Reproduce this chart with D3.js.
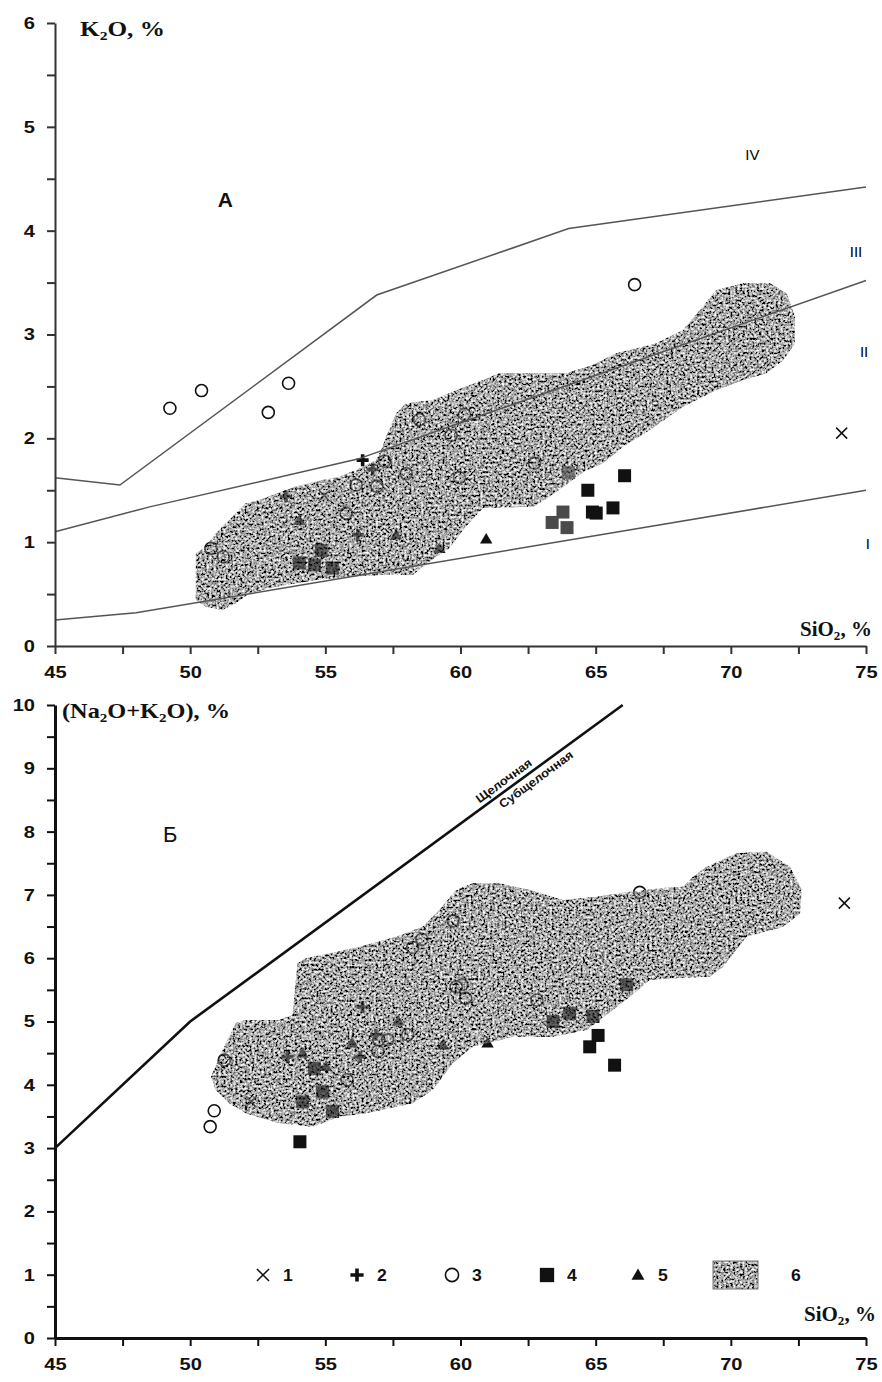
<!DOCTYPE html>
<html>
<head>
<meta charset="utf-8">
<script src="https://cdn.jsdelivr.net/npm/d3@7"></script>
<style>
  html, body { margin: 0; padding: 0; background: #fff; }
  svg { display: block; }
</style>
</head>
<body>
<svg id="chart" width="882" height="1382"></svg>
<script>
// ---------- Diagram A: K2O vs SiO2 ----------
const k2oTicksX = [45, 50, 55, 60, 65, 70, 75];
const k2oTicksY = [0, 1, 2, 3, 4, 5, 6];

// boundary lines between series I–IV (SiO2, K2O)
const k2oLineI  = [[45, 0.25], [48, 0.32], [75, 1.5]];
const k2oLineII = [[45, 1.1], [48.5, 1.34], [56.2, 1.8], [60, 2.15], [75, 3.52]];
const k2oLineIV = [[45, 1.62], [47.4, 1.55], [56.9, 3.38], [64, 4.02], [75, 4.42]];

// field 6 outline
const k2oField = [
  [50.21,0.893],[50.58,0.957],[50.95,1.086],[51.57,1.246],[52.06,1.375],[52.56,1.407],
  [53.91,1.535],[54.90,1.599],[55.52,1.631],[56.14,1.696],[56.88,1.792],[57.12,1.920],
  [57.25,2.016],[57.62,2.242],[57.99,2.338],[58.97,2.370],[60.09,2.486],[60.83,2.563],
  [61.44,2.627],[63.91,2.627],[64.90,2.707],[65.77,2.820],[67.25,2.916],[68.23,3.044],
  [68.97,3.269],[69.47,3.430],[70.46,3.494],[71.44,3.494],[72.06,3.398],[72.37,3.172],
  [72.37,2.916],[71.94,2.755],[71.32,2.627],[70.46,2.563],[69.47,2.466],[68.23,2.305],
  [67.00,2.081],[66.01,1.920],[65.27,1.760],[64.53,1.676],[63.30,1.438],[62.68,1.342],
  [60.83,1.329],[60.15,1.137],[59.59,0.944],[59.10,0.860],[58.60,0.764],[58.23,0.684],
  [57.12,0.684],[55.89,0.668],[54.66,0.636],[53.17,0.571],[52.19,0.508],[51.69,0.411],
  [51.20,0.347],[50.58,0.379],[50.21,0.443]
];

// samples by group (SiO2, K2O)
const k2oCross = [[54.96, 1.45], [74.1, 2.05]];
const k2oPlus = [[56.38, 1.79], [56.75, 1.70], [53.54, 1.44], [56.2, 1.07]];
const k2oCircle = [
  [49.25, 2.29], [50.42, 2.46], [52.89, 2.25], [53.64, 2.53], [58.48, 2.18], [57.19, 1.78],
  [57.99, 1.66], [56.14, 1.55], [56.91, 1.54], [55.77, 1.28], [50.77, 0.94], [51.22, 0.86],
  [60.15, 2.23], [59.65, 2.03], [59.96, 1.62], [62.74, 1.76], [66.44, 3.48]
];
const k2oSquare = [
  [54.04, 0.80], [54.85, 0.92], [55.26, 0.75], [54.6, 0.78],
  [66.07, 1.64], [64.71, 1.50], [64.88, 1.29], [65.02, 1.28], [65.64, 1.33]
];
const k2oSquareGrey = [[64.0, 1.67], [63.79, 1.29], [63.39, 1.19], [63.94, 1.14]];
const k2oTriangle = [[54.04, 1.21], [57.62, 1.07], [59.22, 0.94], [60.95, 1.03]];

// ---------- Diagram Б: Na2O+K2O vs SiO2 ----------
const alkTicksX = [45, 50, 55, 60, 65, 70, 75];
const alkTicksY = [0, 1, 2, 3, 4, 5, 6, 7, 8, 9, 10];
const alkDivide = [[45, 3], [50, 5], [66, 10]];

const alkField = [
  [50.77,4.128],[51.20,4.550],[51.69,4.972],[52.06,5.024],[53.30,5.024],[53.79,5.103],
  [53.97,5.919],[54.29,5.998],[55.15,6.077],[56.26,6.182],[57.62,6.340],[58.60,6.498],
  [59.22,6.761],[59.84,7.077],[60.46,7.183],[61.44,7.183],[62.56,7.077],[63.79,6.919],
  [65.03,6.972],[66.26,7.051],[67.49,7.109],[68.23,7.130],[68.60,7.288],[69.10,7.446],
  [70.21,7.657],[71.32,7.683],[72.19,7.446],[72.62,7.077],[72.56,6.709],[71.94,6.498],
  [70.58,6.340],[69.71,5.866],[69.22,5.708],[68.11,5.687],[67.00,5.656],[66.26,5.392],
  [65.64,5.182],[64.66,4.866],[63.42,4.760],[61.94,4.760],[60.46,4.602],[59.71,4.340],
  [58.97,3.918],[58.23,3.708],[56.51,3.550],[55.52,3.496],[54.53,3.338],[53.30,3.392],
  [52.06,3.550],[51.44,3.708],[50.95,3.918]
];

const alkCross = [[52.25, 3.73], [74.2, 6.87]];
const alkPlus = [[56.38, 5.23], [56.87, 4.79], [53.6, 4.44], [56.29, 4.44]];
const alkCircle = [
  [50.89, 3.59], [50.74, 3.34], [51.26, 4.39], [55.8, 4.08], [59.72, 6.59], [58.23, 6.17],
  [58.57, 6.30], [59.84, 5.55], [60.06, 5.58], [60.19, 5.37], [62.83, 5.34], [58.05, 4.79],
  [56.98, 4.71], [57.31, 4.71], [56.94, 4.53], [66.63, 7.04]
];
const alkSquare = [
  [54.59, 4.26], [54.9, 3.89], [54.16, 3.73], [55.27, 3.58], [54.06, 3.10], [63.42, 5.0],
  [64.04, 5.13], [64.9, 5.08], [66.14, 5.58], [65.09, 4.78], [64.78, 4.60], [65.7, 4.31]
];
const alkTriangle = [[57.7, 5.01], [55.99, 4.66], [54.16, 4.50], [59.35, 4.63], [61.0, 4.66], [55.02, 4.29]];

const legendItems = [
  { key: "cross", label: "1" }, { key: "plus", label: "2" }, { key: "circle", label: "3" },
  { key: "square", label: "4" }, { key: "triangle", label: "5" }, { key: "field", label: "6" }
];

// ---------- drawing ----------
const SANS = "'Liberation Sans', Arial, sans-serif";
const svg = d3.select("#chart");
svg.append("rect").attr("width", 882).attr("height", 1382).attr("fill", "#fff");

// widen a text element horizontally by factor k (or to a fixed width)
function widen(sel, k, fixed) {
  sel.each(function () {
    const w = this.getComputedTextLength();
    if (w > 0) {
      d3.select(this).attr("textLength", fixed || w * k).attr("lengthAdjust", "spacingAndGlyphs");
    }
  });
  return sel;
}

const defs = svg.append("defs");
const grain = defs.append("filter").attr("id", "grain")
  .attr("x", "-2%").attr("y", "-2%").attr("width", "104%").attr("height", "104%");
grain.append("feTurbulence").attr("type", "fractalNoise").attr("baseFrequency", 0.42)
  .attr("numOctaves", 2).attr("seed", 11).attr("result", "n");
grain.append("feColorMatrix").attr("in", "n").attr("type", "matrix")
  .attr("values", "2.1 0 0 0 -0.66  2.1 0 0 0 -0.66  2.1 0 0 0 -0.66  0 0 0 0 1")
  .attr("result", "g");
grain.append("feComposite").attr("in", "g").attr("in2", "SourceAlpha").attr("operator", "in");

function marker(g, type, cx, cy, fill, big) {
  const col = fill || "#111";
  const k = big ? 1.1 : 1;
  if (type === "cross") {
    const s = 5.5 * k;
    g.append("path").attr("d", `M${cx - s},${cy - s}L${cx + s},${cy + s}M${cx - s},${cy + s}L${cx + s},${cy - s}`)
      .attr("stroke", col).attr("stroke-width", 1.5).attr("fill", "none");
  } else if (type === "plus") {
    const s = 6 * k;
    g.append("path").attr("d", `M${cx - s},${cy}L${cx + s},${cy}M${cx},${cy - s}L${cx},${cy + s}`)
      .attr("stroke", col).attr("stroke-width", 3.6).attr("fill", "none");
  } else if (type === "circle") {
    g.append("circle").attr("cx", cx).attr("cy", cy).attr("r", 6 * k)
      .attr("stroke", col).attr("stroke-width", 1.6).attr("fill", "none");
  } else if (type === "square") {
    const s = 6.5 * k;
    g.append("rect").attr("x", cx - s).attr("y", cy - s).attr("width", 2 * s).attr("height", 2 * s)
      .attr("fill", col);
  } else if (type === "triangle") {
    g.append("path").attr("transform", `translate(${cx},${cy + 1})`)
      .attr("d", d3.symbol(d3.symbolTriangle, 66 * k)()).attr("fill", col);
  }
}

function plotPoints(g, x, y, sets) {
  sets.forEach(([data, type, fill]) => {
    data.forEach(d => marker(g, type, x(d[0]), y(d[1]), fill));
  });
}

function styleTicks(sel) {
  const t = sel.selectAll(".tick text")
    .attr("font-family", SANS).attr("font-weight", "bold")
    .attr("font-size", 17).attr("fill", "#111");
  widen(t, 1.18);
}

function axes(g, x, y, ticksX, ticksY, heavy) {
  const sw = heavy ? 3 : 2;
  const col = heavy ? "#111" : "#333";
  const minorX = d3.range(ticksX[0], ticksX[ticksX.length - 1] + 0.01, 2.5);
  const minorY = d3.range(ticksY[0], ticksY[ticksY.length - 1] + 0.01, 0.5);
  const ax = g.append("g").attr("transform", `translate(0,${y(0)})`)
    .call(d3.axisBottom(x).tickValues(minorX).tickSize(8).tickSizeOuter(0)
      .tickFormat(d => (ticksX.includes(d) ? d : "")));
  ax.select(".domain").attr("stroke", col).attr("stroke-width", sw);
  ax.selectAll(".tick line").attr("stroke", col).attr("stroke-width", 2);
  ax.selectAll(".tick text").attr("y", 20).attr("dy", "0.71em");
  styleTicks(ax);
  const ay = g.append("g").attr("transform", `translate(${x(45)},0)`)
    .call(d3.axisLeft(y).tickValues(minorY).tickSize(8).tickSizeOuter(0)
      .tickFormat(d => (ticksY.includes(d) ? d : "")));
  ay.select(".domain").attr("stroke", col).attr("stroke-width", sw);
  ay.selectAll(".tick line").attr("stroke", col).attr("stroke-width", 2);
  ay.selectAll(".tick text").attr("x", -20);
  styleTicks(ay);
}

function fieldLayers(g, pts, x, y) {
  const line = d3.line().x(d => x(d[0])).y(d => y(d[1])).curve(d3.curveLinearClosed);
  return (opacity) => g.append("path").attr("d", line(pts)).attr("fill", "#000")
    .attr("filter", "url(#grain)").attr("opacity", opacity);
}

function serifLabel(g, x, y, parts, size, width) {
  const t = g.append("text").attr("x", x).attr("y", y)
    .attr("font-family", "'Liberation Serif', 'Times New Roman', serif")
    .attr("font-weight", "bold").attr("font-size", size).attr("fill", "#111");
  parts.forEach(p => {
    if (p.sub) {
      t.append("tspan").attr("font-size", size * 0.62).attr("dy", 4).text(p.t);
    } else {
      t.append("tspan").attr("dy", p.back ? -4 : 0).text(p.t);
    }
  });
  if (width) widen(t, 1, width);
}

// ---- Diagram A ----
const xT = d3.scaleLinear([45, 75], [55, 866]);
const yT = d3.scaleLinear([0, 6], [646, 23]);
const gA = svg.append("g");

const fieldA = fieldLayers(gA, k2oField, xT, yT);
fieldA(1);
plotPoints(gA, xT, yT, [
  [k2oCircle, "circle"], [k2oPlus, "plus"], [k2oCross, "cross"],
  [k2oSquare, "square"], [k2oSquareGrey, "square", "#4a4a4a"], [k2oTriangle, "triangle"]
]);
fieldA(0.38);

const lineA = d3.line().x(d => xT(d[0])).y(d => yT(d[1]));
[k2oLineI, k2oLineII, k2oLineIV].forEach(l => {
  gA.append("path").attr("d", lineA(l)).attr("fill", "none")
    .attr("stroke", "#555").attr("stroke-width", 1.5);
});

axes(gA, xT, yT, k2oTicksX, k2oTicksY, false);

const romans = [["IV", 70.8, 4.73], ["III", 74.63, 3.80], ["II", 74.93, 2.83], ["I", 75.07, 0.98]];
romans.forEach(([t, sx, sy]) => {
  gA.append("text").attr("x", xT(sx)).attr("y", yT(sy)).attr("dy", "0.35em")
    .attr("text-anchor", "middle").attr("font-family", SANS)
    .attr("font-size", 15).attr("fill", "#000").text(t);
});
gA.append("text").attr("x", xT(51.3)).attr("y", yT(4.3)).attr("dy", "0.35em")
  .attr("text-anchor", "middle").attr("font-family", SANS)
  .attr("font-weight", "bold").attr("font-size", 21).attr("fill", "#111").text("А");

serifLabel(gA, 80, 36, [{ t: "K" }, { t: "2", sub: true }, { t: "O, %", back: true }], 21, 85);
serifLabel(gA, 800, 636, [{ t: "SiO" }, { t: "2", sub: true }, { t: ", %", back: true }], 21);

// ---- Diagram Б ----
const xB = d3.scaleLinear([45, 75], [55, 866]);
const yB = d3.scaleLinear([0, 10], [1338, 705]);
const gB = svg.append("g");

const fieldB = fieldLayers(gB, alkField, xB, yB);
fieldB(1);
plotPoints(gB, xB, yB, [
  [alkCircle, "circle"], [alkPlus, "plus"], [alkCross, "cross"],
  [alkSquare, "square"], [alkTriangle, "triangle"]
]);
fieldB(0.38);

const lineB = d3.line().x(d => xB(d[0])).y(d => yB(d[1]));
gB.append("path").attr("d", lineB(alkDivide)).attr("fill", "none")
  .attr("stroke", "#111").attr("stroke-width", 2.6);

// series names written along the dividing line
const p1 = alkDivide[1], p2 = alkDivide[2];
const ang = Math.atan2(yB(p2[1]) - yB(p1[1]), xB(p2[0]) - xB(p1[0])) * 180 / Math.PI;
const slope = (p2[1] - p1[1]) / (p2[0] - p1[0]);
[["Щелочная", 61.8, -5], ["Субщелочная", 62.6, 13]].forEach(([t, s, dy]) => {
  const v = p1[1] + (s - p1[0]) * slope;
  const tx = gB.append("text")
    .attr("transform", `translate(${xB(s)},${yB(v)}) rotate(${ang})`)
    .attr("y", dy).attr("text-anchor", "middle")
    .attr("font-family", SANS).attr("font-weight", "bold")
    .attr("font-size", 12).attr("fill", "#111").text(t);
  widen(tx, 1.08);
});

axes(gB, xB, yB, alkTicksX, alkTicksY, true);

gB.append("text").attr("x", xB(49.26)).attr("y", yB(7.95)).attr("dy", "0.35em")
  .attr("text-anchor", "middle").attr("font-family", SANS)
  .attr("font-size", 22).attr("fill", "#111").text("Б");

serifLabel(gB, 62, 718, [{ t: "(Na" }, { t: "2", sub: true }, { t: "O+K", back: true }, { t: "2", sub: true }, { t: "O), %", back: true }], 21, 168);
serifLabel(gB, 804, 1321, [{ t: "SiO" }, { t: "2", sub: true }, { t: ", %", back: true }], 21);

// legend
const legX = [263, 357, 452, 547, 638, 735];
const legY = 1275;
const leg = gB.append("g");
legendItems.forEach((it, i) => {
  const cx = legX[i];
  let lx = cx + 25;
  if (it.key === "field") {
    leg.append("rect").attr("x", cx - 22).attr("y", legY - 14).attr("width", 45).attr("height", 28)
      .attr("fill", "#000").attr("filter", "url(#grain)");
    leg.append("rect").attr("x", cx - 22).attr("y", legY - 14).attr("width", 45).attr("height", 28)
      .attr("fill", "none").attr("stroke", "#777").attr("stroke-width", 1);
    lx = cx + 61;
  } else {
    marker(leg, it.key, cx, legY, null, true);
  }
  const lt = leg.append("text").attr("x", lx).attr("y", legY).attr("dy", "0.36em")
    .attr("font-family", SANS).attr("font-weight", "bold")
    .attr("font-size", 16).attr("text-anchor", "middle").attr("fill", "#111").text(it.label);
  widen(lt, 1.1);
});
</script>
</body>
</html>
